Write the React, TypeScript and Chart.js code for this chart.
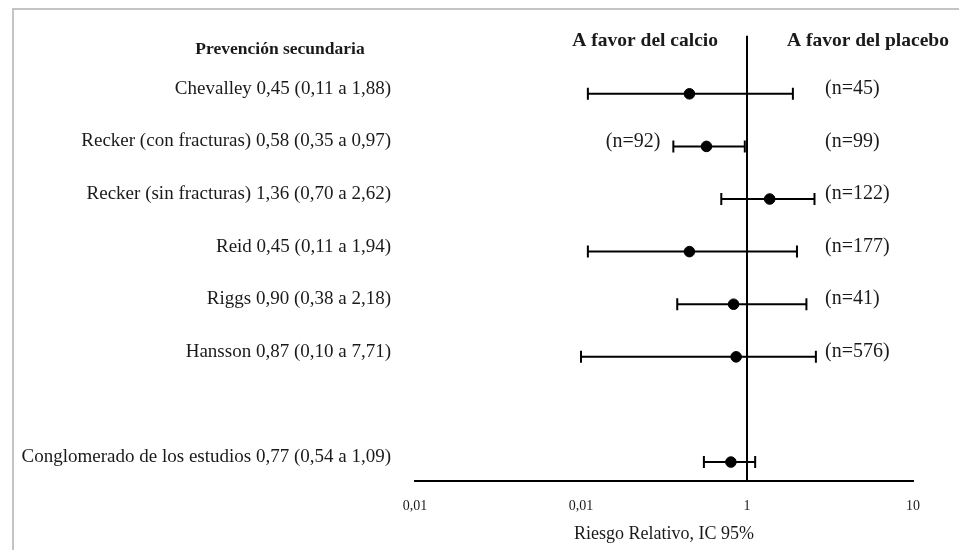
import React, { useEffect, useRef } from "react";
import { Chart, registerables } from "chart.js";
Chart.register(...registerables);

// ---- data ----
const studyLabels = [
  "Chevalley 0,45 (0,11 a 1,88)",
  "Recker (con fracturas) 0,58 (0,35 a 0,97)",
  "Recker (sin fracturas) 1,36 (0,70 a 2,62)",
  "Reid 0,45 (0,11 a 1,94)",
  "Riggs 0,90 (0,38 a 2,18)",
  "Hansson 0,87 (0,10 a 7,71)",
  "Conglomerado de los estudios 0,77 (0,54 a 1,09)",
];
const rowPos = [0, 1, 2, 3, 4, 5, 7];
const riskRatio = [0.45, 0.57, 1.37, 0.45, 0.83, 0.86, 0.8];
const ciLower = [0.11, 0.36, 0.7, 0.11, 0.38, 0.1, 0.55];
const ciUpper = [1.89, 0.97, 2.55, 2.0, 2.28, 2.6, 1.12];
const nCalcio = ["", "(n=92)", "", "", "", "", ""];
const nPlacebo = ["(n=45)", "(n=99)", "(n=122)", "(n=177)", "(n=41)", "(n=576)", ""];
const xTickValues = [0.01, 0.1, 1, 10];
const xTickLabels = ["0,01", "0,01", "1", "10"];
const headerLeft = "Prevención secundaria";
const headerCalcio = "A favor del calcio";
const headerPlacebo = "A favor del placebo";
const xTitle = "Riesgo Relativo, IC 95%";
const refValue = 1;

const Y_MIN = -1.11;
const Y_MAX = 7.36;
const SERIF = '"Liberation Serif", "Times New Roman", serif';
const TEXT = "#1a1a1a";

const overlayPlugin = {
  id: "overlay",
  beforeDraw(chart: any) {
    const ctx = chart.ctx;
    ctx.save();
    ctx.strokeStyle = "#c4c4c4";
    ctx.lineWidth = 2;
    ctx.beginPath();
    ctx.moveTo(12, 9);
    ctx.lineTo(chart.width, 9);
    ctx.moveTo(13, 9);
    ctx.lineTo(13, chart.height);
    ctx.stroke();
    ctx.restore();
  },
  afterDraw(chart: any) {
    const ctx = chart.ctx;
    const xs = chart.scales.x;
    const ys = chart.scales.y;
    const area = chart.chartArea;
    const refX = xs.getPixelForValue(refValue);
    ctx.save();
    ctx.fillStyle = TEXT;
    ctx.textBaseline = "middle";
    // headers
    ctx.font = `bold 17.5px ${SERIF}`;
    ctx.textAlign = "center";
    ctx.fillText(headerLeft, area.left - 135, ys.getPixelForValue(-1) + 8);
    ctx.font = `bold 19.5px ${SERIF}`;
    ctx.textAlign = "right";
    ctx.fillText(headerCalcio, refX - 29, ys.getPixelForValue(-1));
    ctx.textAlign = "left";
    ctx.fillText(headerPlacebo, refX + 40, ys.getPixelForValue(-1));
    // n labels
    ctx.font = `20px ${SERIF}`;
    rowPos.forEach((r, i) => {
      const y = ys.getPixelForValue(r) - 5;
      if (nPlacebo[i]) {
        ctx.textAlign = "left";
        ctx.fillText(nPlacebo[i], refX + 78, y);
      }
      if (nCalcio[i]) {
        ctx.textAlign = "right";
        ctx.fillText(nCalcio[i], xs.getPixelForValue(ciLower[i]) - 13, y);
      }
    });
    ctx.restore();
  },
};

export default function App() {
  const ref = useRef<HTMLCanvasElement | null>(null);
  useEffect(() => {
    if (!ref.current) return;
    const ciSets = rowPos.map((r, i) => ({
      data: [
        { x: ciLower[i], y: r },
        { x: ciUpper[i], y: r },
      ],
      showLine: true,
      borderColor: "#000",
      borderWidth: 2,
      pointRadius: 0,
      order: 2,
    }));
    const caps = {
      data: rowPos.flatMap((r, i) => [
        { x: ciLower[i], y: r },
        { x: ciUpper[i], y: r },
      ]),
      pointStyle: "line",
      rotation: 90,
      pointRadius: 6,
      borderColor: "#000",
      borderWidth: 2,
      order: 1,
    };
    const points = {
      data: rowPos.map((r, i) => ({ x: riskRatio[i], y: r })),
      pointStyle: "circle",
      pointRadius: 5.3,
      backgroundColor: "#000",
      borderColor: "#000",
      borderWidth: 1,
      order: 0,
    };
    const refLine = {
      data: [
        { x: refValue, y: Y_MIN },
        { x: refValue, y: Y_MAX },
      ],
      showLine: true,
      borderColor: "#000",
      borderWidth: 2,
      pointRadius: 0,
      order: 3,
    };
    const chart = new Chart(ref.current, {
      type: "scatter",
      data: { datasets: [points, caps, ...ciSets, refLine] as any },
      options: {
        animation: false,
        responsive: false,
        layout: { padding: { top: 32, right: 46, bottom: 0, left: 0 } },
        plugins: { legend: { display: false }, tooltip: { enabled: false } },
        scales: {
          x: {
            type: "logarithmic",
            min: 0.01,
            max: 10,
            position: "bottom",
            grid: { display: false, drawTicks: false },
            border: { display: true, color: "#000", width: 2 },
            afterBuildTicks: (s: any) => {
              s.ticks = xTickValues.map((v) => ({ value: v }));
            },
            ticks: {
              callback: (_v: any, i: number) => xTickLabels[i],
              font: { family: SERIF, size: 14 },
              color: TEXT,
              padding: 17,
              maxRotation: 0,
              autoSkip: false,
            },
            title: {
              display: true,
              text: xTitle,
              font: { family: SERIF, size: 18 },
              color: TEXT,
              padding: { top: 0, bottom: 5 },
            },
            afterFit: (s: any) => {
              s.height = 69;
            },
          },
          y: {
            type: "linear",
            reverse: true,
            min: Y_MIN,
            max: Y_MAX,
            grid: { display: false, drawTicks: false },
            border: { display: false },
            afterBuildTicks: (s: any) => {
              s.ticks = rowPos.map((v) => ({ value: v }));
            },
            ticks: {
              callback: (_v: any, i: number) => studyLabels[i],
              font: { family: SERIF, size: 19 },
              color: TEXT,
              padding: 24,
              labelOffset: -5,
              autoSkip: false,
            },
            afterFit: (s: any) => {
              s.width = 415;
            },
          },
        } as any,
      },
      plugins: [overlayPlugin],
    });
    return () => chart.destroy();
  }, []);
  return (
    <div style={{ position: "absolute", left: 0, top: 0, width: 959, height: 550 }}>
      <canvas ref={ref} width={959} height={550} style={{ display: "block" }} />
    </div>
  );
}
